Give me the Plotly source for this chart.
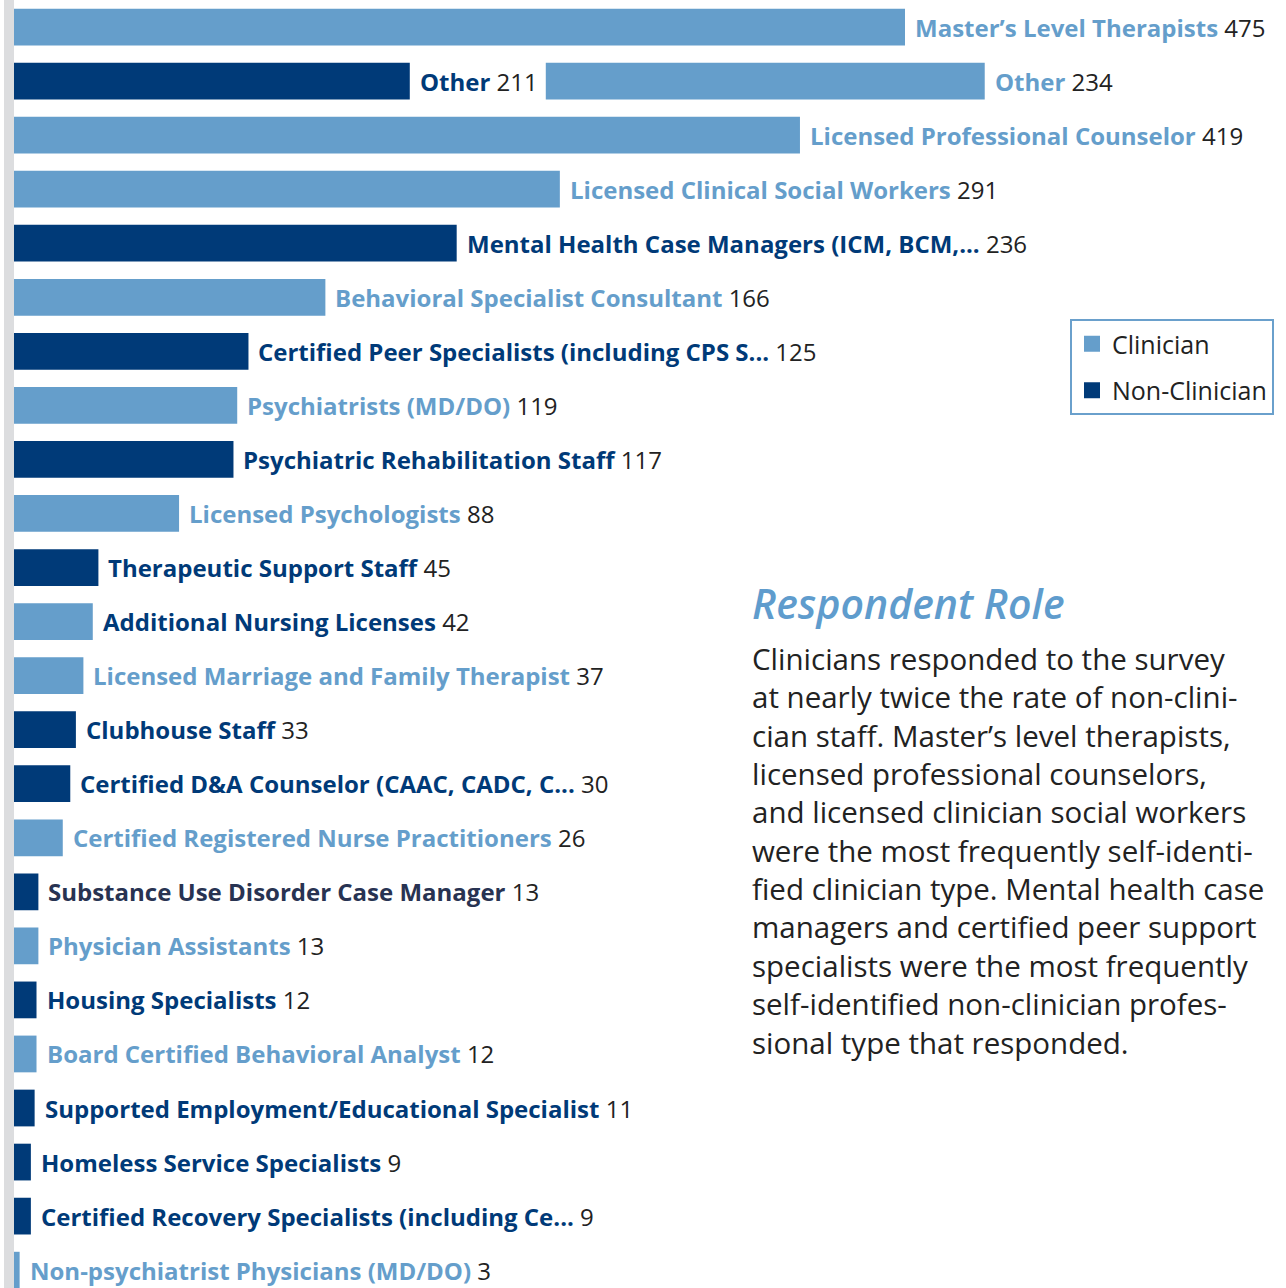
import plotly.graph_objects as go

# ---- data (top to bottom) ----
names = [
    "Master’s Level Therapists", "Other", "Other", "Licensed Professional Counselor",
    "Licensed Clinical Social Workers", "Mental Health Case Managers (ICM, BCM,...",
    "Behavioral Specialist Consultant", "Certified Peer Specialists (including CPS S...",
    "Psychiatrists (MD/DO)", "Psychiatric Rehabilitation Staff", "Licensed Psychologists",
    "Therapeutic Support Staff", "Additional Nursing Licenses",
    "Licensed Marriage and Family Therapist", "Clubhouse Staff",
    "Certified D&A Counselor (CAAC, CADC, C...", "Certified Registered Nurse Practitioners",
    "Substance Use Disorder Case Manager", "Physician Assistants", "Housing Specialists",
    "Board Certified Behavioral Analyst", "Supported Employment/Educational Specialist",
    "Homeless Service Specialists", "Certified Recovery Specialists (including Ce...",
    "Non-psychiatrist Physicians (MD/DO)",
]
values = [475, 211, 234, 419, 291, 236, 166, 125, 119, 117, 88, 45, 42, 37, 33, 30, 26,
          13, 13, 12, 12, 11, 9, 9, 3]
roles = ["C", "N", "C", "C", "C", "N", "C", "N", "C", "N", "C", "N", "C", "C", "N", "N", "C",
         "N", "C", "N", "C", "N", "N", "N", "C"]
label_tones = ["light", "dark", "light", "light", "light", "dark", "light", "dark", "light",
               "dark", "light", "dark", "dark", "light", "dark", "dark", "light", "slate",
               "light", "dark", "light", "dark", "dark", "dark", "light"]
# row key for each entry (both "Other" entries share one row)
rows = [f"r{i}" for i in [0, 1, 1, 2, 3, 4, 5, 6, 7, 8, 9, 10, 11, 12, 13, 14, 15, 16, 17,
                          18, 19, 20, 21, 22, 23]]
row_order = [f"r{i}" for i in range(24)]
legend_names = ["Clinician", "Non-Clinician"]

title_text = "Respondent Role"
para_lines = [
    "Clinicians responded to the survey",
    "at nearly twice the rate of non-clini-",
    "cian staff. Master’s level therapists,",
    "licensed professional counselors,",
    "and licensed clinician social workers",
    "were the most frequently self-identi-",
    "fied clinician type. Mental health case",
    "managers and certified peer support",
    "specialists were the most frequently",
    "self-identified non-clinician profes-",
    "sional type that responded.",
]

# ---- style ----
LIGHT = "#659ecb"
DARK = "#003a78"
TONE = {"light": LIGHT, "dark": DARK, "slate": "#283352"}
FONT = "'Open Sans', sans-serif"
W, H = 1286, 1288
ML = 14
PLOT_W = W - ML
PX_PER_UNIT = (905 - ML) / max(values)
XMAX = PLOT_W / PX_PER_UNIT
SAME_ROW_GAP_PX = 136  # room for the first label when two bars share a row

# bases: a second bar on the same row starts after the first bar + its label
bases = []
for i, r in enumerate(rows):
    if i > 0 and rows[i - 1] == r:
        bases.append(values[i - 1] + SAME_ROW_GAP_PX / PX_PER_UNIT)
    else:
        bases.append(0)

fig = go.Figure()
for role, lname, color in [("C", legend_names[0], LIGHT), ("N", legend_names[1], DARK)]:
    idx = [i for i in range(len(values)) if roles[i] == role]
    fig.add_trace(go.Bar(
        y=[rows[i] for i in idx], x=[values[i] for i in idx], base=[bases[i] for i in idx],
        orientation="h", name=lname, marker=dict(color=color, line=dict(width=0)),
        width=0.68, hoverinfo="skip", showlegend=False,
    ))
# legend-only entries with larger square swatches
for lname, color in [(legend_names[0], LIGHT), (legend_names[1], DARK)]:
    fig.add_trace(go.Scatter(
        x=[None], y=[None], mode="markers", name=lname, legendgroup=lname,
        marker=dict(symbol="square", size=20, color=color), hoverinfo="skip",
    ))

annotations = []
for i in range(len(values)):
    annotations.append(dict(
        x=bases[i] + values[i], y=rows[i], xref="x", yref="y",
        xanchor="left", yanchor="middle", xshift=8, showarrow=False,
        text=f"<b>{names[i]}</b> <span style='color:#222222'>{values[i]}</span>",
        font=dict(family=FONT, size=24, color=TONE[label_tones[i]]),
    ))

annotations.append(dict(
    x=(750 - ML) / PLOT_W, y=1 - 603 / H, xref="paper", yref="paper",
    xanchor="left", yanchor="middle", showarrow=False,
    text=f"<i>{title_text}</i>",
    font=dict(family=FONT, size=41, color="#5f9ccd", weight=600),
))
annotations.append(dict(
    x=(750 - ML) / PLOT_W, y=1 - 636 / H, xref="paper", yref="paper",
    xanchor="left", yanchor="top", align="left", showarrow=False,
    text="<br>".join(para_lines),
    font=dict(family=FONT, size=29.5, color="#222222"),
))

fig.update_layout(
    width=W, height=H,
    margin=dict(l=ML, r=0, t=0, b=0),
    paper_bgcolor="white", plot_bgcolor="white",
    barmode="overlay",
    xaxis=dict(range=[0, XMAX], visible=False, fixedrange=True),
    yaxis=dict(categoryorder="array", categoryarray=row_order, type="category",
               range=[23.33, -0.5], visible=False, fixedrange=True),
    showlegend=True,
    legend=dict(
        x=(1274 - ML) / PLOT_W, y=1 - 319 / H, xanchor="right", yanchor="top",
        bordercolor="#6aa0cc", borderwidth=2, bgcolor="white",
        font=dict(family=FONT, size=25, color="#222222"),
        traceorder="grouped", tracegroupgap=11, itemsizing="trace",
    ),
    annotations=annotations,
    shapes=[dict(type="rect", xref="paper", yref="paper",
                 x0=-10 / PLOT_W, x1=0, y0=0, y1=1,
                 fillcolor="#dcdddf", line=dict(width=0), layer="below")],
)

fig.write_html("out.html", config={"displayModeBar": False},
               post_script="document.body.style.margin='0';")
